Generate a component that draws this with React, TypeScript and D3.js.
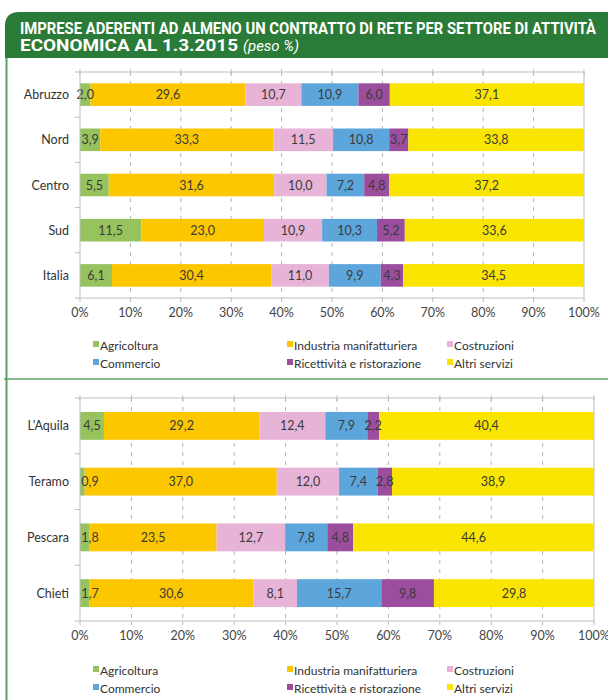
import React from "react";
import * as d3 from "d3";

const sectors = ["Agricoltura", "Industria manifatturiera", "Costruzioni", "Commercio", "Ricettività e ristorazione", "Altri servizi"];
const sectorColors = ["#97c35e", "#fdc700", "#e7b4d7", "#5ca6dc", "#9b4e9e", "#f9e500"];

const areasTop = ["Abruzzo", "Nord", "Centro", "Sud", "Italia"];
const valuesTop = [
	[2.0, 29.6, 10.7, 10.9, 6.0, 37.1],
	[3.9, 33.3, 11.5, 10.8, 3.7, 33.8],
	[5.5, 31.6, 10.0, 7.2, 4.8, 37.2],
	[11.5, 23.0, 10.9, 10.3, 5.2, 33.6],
	[6.1, 30.4, 11.0, 9.9, 4.3, 34.5]
];

const areasBottom = ["L'Aquila", "Teramo", "Pescara", "Chieti"];
const valuesBottom = [
	[4.5, 29.2, 12.4, 7.9, 2.2, 40.4],
	[0.9, 37.0, 12.0, 7.4, 2.8, 38.9],
	[1.8, 23.5, 12.7, 7.8, 4.8, 44.6],
	[1.7, 30.6, 8.1, 15.7, 9.8, 29.8]
];

const ticks = [0, 0.1, 0.2, 0.3, 0.4, 0.5, 0.6, 0.7, 0.8, 0.9, 1];

const font = "Lato, 'Open Sans', sans-serif";
const green = "#2b7b38";
const border = "#5b9f66";

const Panel = ({areas, values, layout}) => {

	let rows = areas.map((a, i) => {
		let r = {area: a};
		sectors.forEach((s, j) => r[s] = values[i][j]);
		return r;
	});

	let series = d3.stack().keys(sectors).offset(d3.stackOffsetExpand)(rows);

	let x = d3.scaleLinear().domain([0, 1]).range([layout.left, layout.right]);
	let y = d3.scaleBand().domain(areas).range([layout.top, layout.bottom]).paddingInner(0.5).paddingOuter(0.25);
	let step = y.step();
	let bandStart = layout.top;

	return (
		<g>
			{ticks.slice(1, -1).map(t => (
				<line key={"g" + t} x1={x(t)} x2={x(t)} y1={layout.top} y2={layout.bottom}
					  stroke="#b5b5b5" strokeDasharray="4,5" />
			))}
			<line x1={x(1)} x2={x(1)} y1={layout.top} y2={layout.bottom} stroke="#bdbdbd" />
			<line x1={x(0)} x2={x(1)} y1={layout.top} y2={layout.top} stroke="#bdbdbd" />
			{ticks.map(t => (
				<line key={"tt" + t} x1={x(t)} x2={x(t)} y1={layout.top - 3} y2={layout.top + 3} stroke="#bdbdbd" />
			))}

			{series.map((s, si) => s.map((d, i) => (
				<rect key={si + "-" + i} x={x(d[0])} width={x(d[1]) - x(d[0])}
					  y={y(areas[i])} height={y.bandwidth()} fill={sectorColors[si]} />
			)))}

			{series.map((s, si) => s.map((d, i) => {
				let v = values[i][si];
				let cx = v < 2 ? x(d[0]) + 10 : (x(d[0]) + x(d[1])) / 2;
				return (
					<text key={"l" + si + "-" + i} x={cx} y={y(areas[i]) + y.bandwidth() / 2 + 4.5}
						  textAnchor="middle" fontSize={12.5} fill="#3a3a3a" fontFamily={font}>
						{v.toFixed(1).replace(".", ",")}
					</text>
				);
			}))}

			<line x1={x(0)} x2={x(0)} y1={layout.top} y2={layout.bottom} stroke="#bdbdbd" />
			<line x1={x(0)} x2={x(1)} y1={layout.bottom} y2={layout.bottom} stroke="#bdbdbd" />
			{d3.range(areas.length + 1).map(k => (
				<line key={"yt" + k} x1={x(0) - 5} x2={x(0)} y1={bandStart + k * step} y2={bandStart + k * step} stroke="#bdbdbd" />
			))}
			{ticks.map(t => (
				<line key={"bt" + t} x1={x(t)} x2={x(t)} y1={layout.bottom} y2={layout.bottom + 4} stroke="#bdbdbd" />
			))}

			{areas.map(a => (
				<text key={a} x={layout.left - 11} y={y(a) + y.bandwidth() / 2 + 4.5} textAnchor="end"
					  fontSize={12.5} fill="#333" fontFamily={font}>{a}</text>
			))}

			{ticks.map(t => (
				<text key={"tl" + t} x={x(t)} y={layout.bottom + 19} textAnchor="middle"
					  fontSize={12.5} fill="#444" fontFamily={font}>{Math.round(t * 100) + "%"}</text>
			))}

			{sectors.map((s, i) => {
				let col = i % 3;
				let row = Math.floor(i / 3);
				let lx = layout.legendX[col];
				let ly = layout.legendY + row * 18;
				return (
					<g key={"lg" + s}>
						<rect x={lx} y={ly - 9} width={6} height={6} fill={sectorColors[i]} />
						<text x={lx + 7} y={ly} fontSize={12} fill="#333" fontFamily={font}>{s}</text>
					</g>
				);
			})}
		</g>
	);
};

export default function App() {

	let layoutTop = {left: 80, right: 584, top: 72, bottom: 298, legendX: [93, 287, 447], legendY: 350};
	let layoutBottom = {left: 80, right: 594, top: 398, bottom: 621, legendX: [93, 287, 447], legendY: 675};

	return (
		<svg width={608} height={700} style={{position: "absolute", left: 0, top: 0}}>
			<rect x={0} y={0} width={608} height={700} fill="#fff" />
			<path d="M5,58 L5,26 Q5,12 19,12 L608,12 L608,58 Z" fill={green} />
			<line x1={6.5} x2={6.5} y1={58} y2={700} stroke={border} strokeWidth={2} />
			<line x1={4} x2={608} y1={379} y2={379} stroke={border} strokeWidth={1.5} />

			<text x={20} y={34} fill="#fff" fontFamily="'Liberation Sans Narrow', Roboto, sans-serif"
				  fontWeight="bold" fontSize={16} textLength={576} lengthAdjust="spacingAndGlyphs">
				IMPRESE ADERENTI AD ALMENO UN CONTRATTO DI RETE PER SETTORE DI ATTIVITÀ
			</text>
			<text x={20} y={51} fill="#fff" fontFamily="'Liberation Sans Narrow', Roboto, sans-serif"
				  fontWeight="bold" fontSize={16} textLength={218} lengthAdjust="spacingAndGlyphs">
				ECONOMICA AL 1.3.2015
			</text>
			<text x={243} y={51} fill="#fff" fontFamily="'Liberation Sans Narrow', Roboto, sans-serif"
				  fontStyle="italic" fontSize={15} textLength={56} lengthAdjust="spacingAndGlyphs">
				(peso %)
			</text>

			<Panel areas={areasTop} values={valuesTop} layout={layoutTop} />
			<Panel areas={areasBottom} values={valuesBottom} layout={layoutBottom} />
		</svg>
	);
}
